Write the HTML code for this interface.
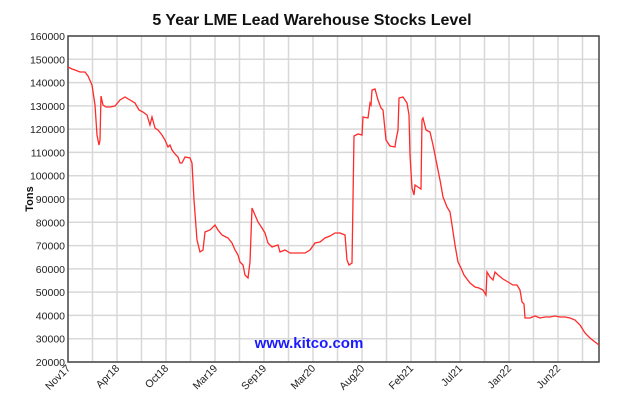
<!DOCTYPE html>
<html><head><meta charset="utf-8"><style>
body{margin:0;background:#fff;width:627px;height:408px;overflow:hidden}
svg{display:block;font-family:"Liberation Sans",Arial,sans-serif}
</style></head><body>
<svg width="627" height="408" viewBox="0 0 627 408">
<rect width="627" height="408" fill="#fff"/>
<text x="312" y="25" text-anchor="middle" font-size="16" font-weight="bold" fill="#111">5 Year LME Lead Warehouse Stocks Level</text>
<g stroke="#d8d8d8" stroke-width="1.5" id="grid"></g>
<g font-size="10.5" fill="#222" text-anchor="end" id="yl"></g>
<g font-size="10.5" fill="#222" id="xl"></g>
<rect x="68" y="36" width="531" height="326" fill="none" stroke="#444" stroke-width="1.5"/>
<text transform="translate(33,199) rotate(-90)" text-anchor="middle" font-size="11" font-weight="bold" fill="#111">Tons</text>
<text x="309" y="348" text-anchor="middle" font-size="15" font-weight="bold" fill="#1a1aff">www.kitco.com</text>
<polyline fill="none" stroke="#ff2a2a" stroke-width="1.3" points="68,67 72,69 75,70 80,72 85,72 88,76 92,85 95,105 97,135 99,145 100,140 101,96 103,105 106,107 110,107 115,106 120,100 125,97 130,100 135,103 139,110 143,112 147,115 150,125 152,117 155,128 158,130 162,135 165,140 168,147 170,145 172,150 175,154 178,157 180,163 182,163 185,157 190,158 192,163 194,200 197,240 200,252 203,250 205,232 210,230 215,225 218,230 222,235 228,238 232,243 235,250 238,255 240,262 243,265 245,275 248,278 250,262 252,208 255,215 258,222 262,228 265,233 268,243 272,247 278,245 280,252 285,250 290,253 300,253 305,253 310,250 315,243 320,242 325,238 330,236 335,233 340,233 345,235 347,260 349,265 352,263 354,136 358,134 362,135 363,117 368,118 370,103 371,105 372,90 375,89 378,100 381,108 383,110 386,140 390,146 395,147 396,140 398,130 399,98 403,97 407,103 409,115 410,155 412,188 414,195 415,185 418,187 421,189 422,120 423,118 426,130 430,132 433,145 437,165 440,180 443,197 447,207 450,212 452,225 455,245 458,262 461,268 464,275 470,283 475,287 479,288 483,290 486,295 487,272 490,277 493,280 495,272 498,275 503,279 508,282 513,285 517,285 520,290 522,302 524,304 525,318 530,318 535,316 540,318 545,317 550,317 555,316 560,317 565,317 570,318 575,320 580,325 585,333 590,338 595,342 599,345"/>
</svg>
<script>
const ns="http://www.w3.org/2000/svg";
const g=document.getElementById('grid'),yl=document.getElementById('yl'),xl=document.getElementById('xl');
function el(t,a,p,txt){const e=document.createElementNS(ns,t);for(const k in a)e.setAttribute(k,a[k]);if(txt)e.textContent=txt;p.appendChild(e);}
for(let i=0;i<=14;i++){const y=36+i*326/14;el('line',{x1:68,x2:599,y1:y,y2:y},g);el('text',{x:65,y:y+4},yl,String(160000-i*10000));}
for(let k=1;k<22;k++){const x=68+k*24.5;if(x<599)el('line',{x1:x,x2:x,y1:36,y2:362},g);}
const labs=["Nov17","Apr18","Oct18","Mar19","Sep19","Mar20","Aug20","Feb21","Jul21","Jan22","Jun22"];
labs.forEach((l,i)=>{const x=68+i*49;el('text',{transform:`translate(${x+3},${369}) rotate(-45)`,'text-anchor':'end'},xl,l);});
</script>
</body></html>
